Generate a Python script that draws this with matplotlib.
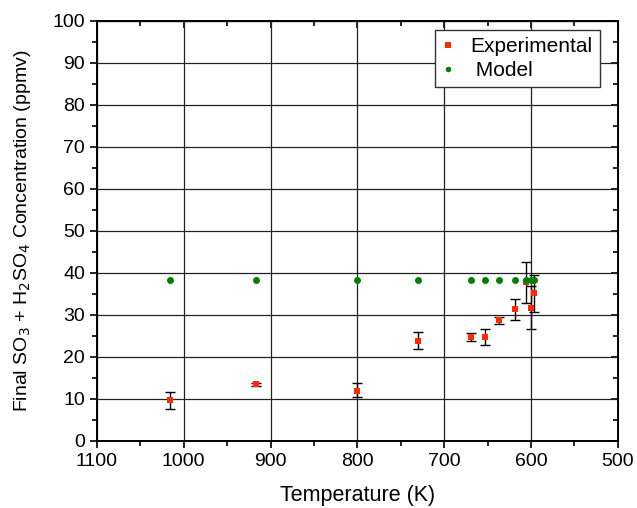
import matplotlib
matplotlib.use("Agg")
import matplotlib.pyplot as plt
from matplotlib.ticker import MultipleLocator

plt.rcParams['font.family'] = ['Liberation Sans', 'DejaVu Sans']

# experimental data: temperature (K), concentration (ppmv), error bar half-widths
exp_temp = [1016, 917, 800, 730, 669, 653, 637, 618, 606, 600, 597]
exp_conc = [9.7, 13.5, 11.8, 23.9, 24.8, 24.8, 28.8, 31.3, 37.8, 31.7, 35.2]
exp_err_lo = [2.0, 0.4, 1.3, 2.0, 1.0, 1.9, 0.9, 2.5, 4.9, 5.0, 4.5]
exp_err_hi = [2.0, 0.4, 2.0, 2.0, 0.9, 1.9, 0.8, 2.5, 4.8, 5.2, 4.3]

# model predictions
model_temp = [1016, 917, 800, 730, 669, 653, 637, 618, 606, 600, 597]
model_conc = [38.3, 38.3, 38.3, 38.3, 38.3, 38.3, 38.3, 38.3, 38.3, 38.3, 38.3]

fig = plt.figure(figsize=(6.37, 5.08), dpi=100)
ax = fig.add_axes([0.152, 0.132, 0.818, 0.827])

ax.errorbar(exp_temp, exp_conc, yerr=[exp_err_lo, exp_err_hi], fmt='none',
            ecolor='black', elinewidth=1.0, capsize=3.5, capthick=1.0, zorder=3)
ax.plot(exp_temp, exp_conc, 's', color='#ff2a00', markersize=5,
        markeredgewidth=0, label='Experimental', zorder=4)
ax.plot(model_temp, model_conc, 'o', color='#008000', markersize=5,
        markeredgewidth=0, label=' Model', zorder=5)

ax.set_xlim(1100, 500)
ax.set_ylim(0, 100)
ax.xaxis.set_major_locator(MultipleLocator(100))
ax.xaxis.set_minor_locator(MultipleLocator(50))
ax.yaxis.set_major_locator(MultipleLocator(10))
ax.yaxis.set_minor_locator(MultipleLocator(5))
ax.grid(True, which='major', color='#222222', linewidth=0.9)
ax.set_axisbelow(True)

ax.tick_params(which='both', direction='out', labelsize=14, width=1.2, color='black')
ax.tick_params(which='major', length=5)
ax.tick_params(which='minor', length=3.5)
for s in ax.spines.values():
    s.set_linewidth(1.4)

# mirrored inward ticks on top/right
top = ax.secondary_xaxis('top')
top.set_xticks(range(500, 1101, 100))
top.xaxis.set_minor_locator(MultipleLocator(50))
top.tick_params(which='both', direction='in', labeltop=False, width=1.2)
top.tick_params(which='major', length=5)
top.tick_params(which='minor', length=3.5)
right = ax.secondary_yaxis('right')
right.set_yticks(range(0, 101, 10))
right.yaxis.set_minor_locator(MultipleLocator(5))
right.tick_params(which='both', direction='in', labelright=False, width=1.2)
right.tick_params(which='major', length=5)
right.tick_params(which='minor', length=3.5)

ax.set_xlabel('Temperature (K)', fontsize=15.5, labelpad=11)
ax.set_ylabel('Final SO$_3$ + H$_2$SO$_4$ Concentration (ppmv)', fontsize=14, labelpad=14)

leg = ax.legend(loc='upper right', fontsize=15, frameon=True, fancybox=False,
                edgecolor='#333333', framealpha=1, handlelength=0.6,
                handletextpad=0.75, borderpad=0.35, labelspacing=0.25,
                markerscale=0.8, borderaxespad=0, bbox_to_anchor=(0.965, 0.979))
leg.get_frame().set_linewidth(1.0)

fig.savefig('out.png', dpi=100)
